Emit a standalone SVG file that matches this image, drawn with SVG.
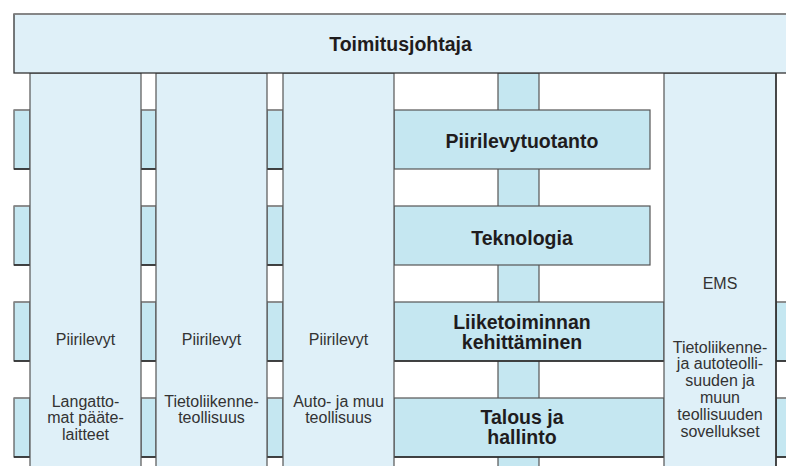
<svg xmlns="http://www.w3.org/2000/svg" width="786" height="466" viewBox="0 0 786 466">
<style>
.pale{fill:#dff0f8;stroke:#555;stroke-width:1.2}
.band{fill:#c5e7f1;stroke:#555;stroke-width:1.2}
.hi{stroke:#8c8c8c;stroke-width:1.4;fill:none}
.lo{stroke:#262626;stroke-width:1.4;fill:none}
.b{font-family:"Liberation Sans",Arial,sans-serif;font-weight:bold;font-size:19.5px;fill:#1f1c1d;text-anchor:middle}
.r{font-family:"Liberation Sans",Arial,sans-serif;font-size:16px;fill:#333;text-anchor:middle}
</style>
<rect width="786" height="466" fill="#fff"/>
<g id="connectors">
  <rect class="band" x="498" y="73" width="41" height="400"/>
  <g id="band-pieces">
    <rect class="band" x="14" y="110" width="16" height="59"/>
    <rect class="band" x="141" y="110" width="15" height="59"/>
    <rect class="band" x="267" y="110" width="16" height="59"/>
    <rect class="band" x="14" y="206" width="16" height="59"/>
    <rect class="band" x="141" y="206" width="15" height="59"/>
    <rect class="band" x="267" y="206" width="16" height="59"/>
    <rect class="band" x="14" y="302" width="16" height="59"/>
    <rect class="band" x="141" y="302" width="15" height="59"/>
    <rect class="band" x="267" y="302" width="16" height="59"/>
    <rect class="band" x="776" y="302" width="20" height="59"/>
    <rect class="band" x="14" y="398" width="16" height="59"/>
    <rect class="band" x="141" y="398" width="15" height="59"/>
    <rect class="band" x="267" y="398" width="16" height="59"/>
    <rect class="band" x="776" y="398" width="20" height="59"/>
    <path class="hi" d="M14 110H30M141 110H156M267 110H283M14 206H30M141 206H156M267 206H283M14 302H30M141 302H156M267 302H283M776 302H786M14 398H30M141 398H156M267 398H283M776 398H786"/>
    <path class="lo" d="M14 169H30M141 169H156M267 169H283M14 265H30M141 265H156M267 265H283M14 361H30M141 361H156M267 361H283M776 361H786M14 457H30M141 457H156M267 457H283M776 457H786"/>
  </g>
</g>
<g id="piirilevytuotanto">
  <rect class="band" x="394" y="110" width="256" height="59"/>
  <text class="b" x="522" y="148">Piirilevytuotanto</text>
</g>
<g id="teknologia">
  <rect class="band" x="394" y="206" width="256" height="59"/>
  <text class="b" x="522" y="245">Teknologia</text>
</g>
<g id="liiketoiminnan">
  <rect class="band" x="394" y="302" width="270" height="59"/>
  <path class="lo" d="M394 361H664"/>
  <text class="b" x="522" y="328.7">Liiketoiminnan</text>
  <text class="b" x="522" y="349.3">kehittäminen</text>
</g>
<g id="talous">
  <rect class="band" x="394" y="398" width="270" height="59"/>
  <path class="lo" d="M394 457H664"/>
  <text class="b" x="522" y="424">Talous ja</text>
  <text class="b" x="522" y="444">hallinto</text>
</g>
<g id="col1">
  <rect class="pale" x="30" y="73" width="111" height="400"/>
  <text class="r" x="85.5" y="345">Piirilevyt</text>
  <text class="r" x="85.5" y="406.7">Langatto-</text>
  <text class="r" x="85.5" y="423.3">mat pääte-</text>
  <text class="r" x="85.5" y="440">laitteet</text>
</g>
<g id="col2">
  <rect class="pale" x="156" y="73" width="111" height="400"/>
  <text class="r" x="211.5" y="345">Piirilevyt</text>
  <text class="r" x="211.5" y="406.7">Tietoliikenne-</text>
  <text class="r" x="211.5" y="423.3">teollisuus</text>
</g>
<g id="col3">
  <rect class="pale" x="283" y="73" width="111" height="400"/>
  <text class="r" x="338.5" y="345">Piirilevyt</text>
  <text class="r" x="338.5" y="406.7">Auto- ja muu</text>
  <text class="r" x="338.5" y="423.3">teollisuus</text>
</g>
<g id="ems">
  <rect class="pale" x="664" y="73" width="112" height="400"/>
  <path class="lo" d="M776 73V466"/>
  <text class="r" x="720" y="289">EMS</text>
  <text class="r" x="720" y="352.5">Tietoliikenne-</text>
  <text class="r" x="720" y="369.3">ja autoteolli-</text>
  <text class="r" x="720" y="386.1">suuden ja</text>
  <text class="r" x="720" y="402.9">muun</text>
  <text class="r" x="720" y="419.7">teollisuuden</text>
  <text class="r" x="720" y="436.5">sovellukset</text>
</g>
<g id="toimitusjohtaja">
  <rect x="14" y="14" width="790" height="59" fill="#dff0f8" stroke="#333" stroke-width="1.3"/>
  <path class="hi" d="M14 14H786"/>
  <text class="b" x="400.5" y="50.5">Toimitusjohtaja</text>
</g>
</svg>
